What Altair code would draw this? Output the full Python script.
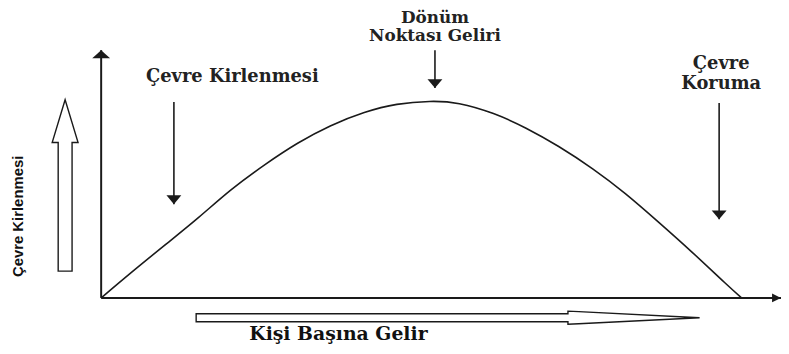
import altair as alt
import pandas as pd

# Environmental Kuznets curve (income vs. pollution)
income = [0, 4.5, 9.5, 14.3, 19.1, 24.1, 28.9, 33.7, 38.7, 43.5, 48.3,
          52.7, 57.7, 62.5, 67.3, 72.3, 77.1, 81.9, 86.9, 91.7, 94.2]
pollution = [0, 10.4, 21.6, 32.4, 43.6, 53.8, 62.4, 69.4, 74.8, 78.1, 79.3,
             78.4, 74.4, 68.5, 61.1, 52.1, 42.1, 30.8, 18.5, 6.2, 0]

# annotation labels (data units)
side_text = ["Çevre Kirlenmesi", "Çevre", "Koruma"]
side_x = [19.3, 91.2, 91.2]
side_y = [89.2, 94.5, 86.3]

turn_text = ["Dönüm", "Noktası Geliri"]
turn_x = [49.1, 49.1]
turn_y = [112.8, 105.5]

# down-pointing annotation arrows
arrow_x = [10.7, 49.1, 90.9]
arrow_top = [79.1, 100.0, 78.7]
arrow_tip = [37.8, 84.7, 31.7]

# axis titles
x_title = "Kişi Başına Gelir"
y_title = "Çevre Kirlenmesi"

XS = alt.Scale(domain=[0, 100])
YS = alt.Scale(domain=[0, 100])
INK = "#1a1a1a"


def X(f="x"):
    return alt.X(f"{f}:Q", scale=XS, axis=None)


def Y(f="y"):
    return alt.Y(f"{f}:Q", scale=YS, axis=None)


curve_df = pd.DataFrame({"x": income, "y": pollution})
curve = alt.Chart(curve_df).mark_line(
    color=INK, strokeWidth=1.6, interpolate="natural"
).encode(x=X(), y=Y())

# axes
axes_df = pd.DataFrame({"x": [0, 0], "y": [0, 0], "x2": [100, 0], "y2": [0, 100]})
axes = alt.Chart(axes_df).mark_rule(color=INK, strokeWidth=2).encode(
    x=X(), y=Y(), x2="x2:Q", y2="y2:Q"
)
y_head = alt.Chart(pd.DataFrame({"x": [0], "y": [100]})).mark_point(
    shape="M0,0 L1,0.9 L-1,0.9 Z", size=324, filled=True, color=INK, opacity=1
).encode(x=X(), y=Y())
x_head = alt.Chart(pd.DataFrame({"x": [100], "y": [0]})).mark_point(
    shape="M0,0 L-1,-0.5 L-1,0.5 Z", size=324, filled=True, color=INK, opacity=1
).encode(x=X(), y=Y())

# annotation arrows
arr_df = pd.DataFrame({"x": arrow_x, "y": arrow_top, "y2": arrow_tip})
arr_shafts = alt.Chart(arr_df).mark_rule(color=INK, strokeWidth=1.6).encode(
    x=X(), y=Y(), y2="y2:Q"
)
arr_heads = alt.Chart(arr_df).mark_point(
    shape="M0,0 L-1,-1.2 L1,-1.2 Z", size=225, filled=True, color=INK, opacity=1
).encode(x=X(), y=Y("y2"))

# labels
side_df = pd.DataFrame({"x": side_x, "y": side_y, "t": side_text})
side_labels = alt.Chart(side_df).mark_text(
    font="DejaVu Serif", fontSize=18, fontWeight="bold", color="#222",
    align="center", baseline="middle"
).encode(x=X(), y=Y(), text="t:N")

turn_df = pd.DataFrame({"x": turn_x, "y": turn_y, "t": turn_text})
turn_labels = alt.Chart(turn_df).mark_text(
    font="DejaVu Serif", fontSize=17, fontWeight="bold", color="#222",
    align="center", baseline="middle"
).encode(x=X(), y=Y(), text="t:N")

# x title and hollow arrow
xt = alt.Chart(pd.DataFrame({"x": [34.9], "y": [-14.4], "t": [x_title]})).mark_text(
    font="DejaVu Serif", fontSize=19, fontWeight="bold", color="#111",
    align="center", baseline="middle"
).encode(x=X(), y=Y(), text="t:N")
x_hollow = alt.Chart(pd.DataFrame({"x": [51.0], "y": [-8.0]})).mark_point(
    shape=("M-1,-0.016 L0.477,-0.016 L0.477,-0.026 L0.52,-0.024 L1,0 "
           "L0.52,0.024 L0.477,0.026 L0.477,0.016 L-1,0.016 Z"),
    size=508 * 508, filled=True, fill="white", stroke=INK, strokeWidth=1.4, opacity=1
).encode(x=X(), y=Y())

# y title and hollow arrow
yt = alt.Chart(pd.DataFrame({"x": [-12.2], "y": [32.9], "t": [y_title]})).mark_text(
    font="Liberation Sans Narrow, Liberation Sans", fontSize=15,
    fontWeight="bold", color="#111", angle=270, align="center", baseline="middle"
).encode(x=X(), y=Y(), text="t:N")
y_hollow = alt.Chart(pd.DataFrame({"x": [-5.3], "y": [45.4]})).mark_point(
    shape=("M0,-1 L0.151,-0.5 L0.081,-0.5 L0.081,1 L-0.081,1 L-0.081,-0.5 "
           "L-0.151,-0.5 Z"),
    size=173 * 173, filled=True, fill="white", stroke=INK, strokeWidth=1.4, opacity=1
).encode(x=X(), y=Y())

chart = alt.layer(
    curve, axes, y_head, x_head, arr_shafts, arr_heads, side_labels, turn_labels,
    xt, x_hollow, yt, y_hollow
).properties(
    width=686, height=250,
    autosize=alt.AutoSizeParams(type="none"),
    padding={"left": 94, "top": 41, "right": 0, "bottom": 46},
    background="white",
).configure_view(strokeWidth=0)

chart.save("out.html", embed_options={"renderer": "svg", "actions": False})
